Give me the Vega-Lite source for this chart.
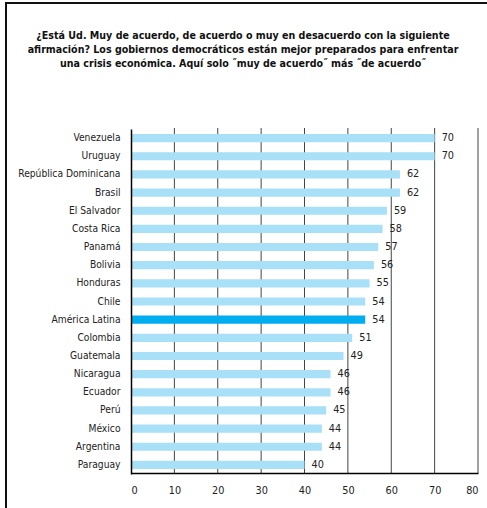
{
  "$schema": "https://vega.github.io/schema/vega-lite/v6.json",
  "autosize": "none",
  "width": 520,
  "height": 520,
  "padding": {"left": 6, "top": 3, "right": 0, "bottom": 0},
  "background": "white",
  "title": {
    "text": [
      "¿Está Ud. Muy de acuerdo, de acuerdo o muy en desacuerdo con la siguiente",
      "afirmación? Los gobiernos democráticos están mejor preparados para enfrentar",
      "una crisis económica. Aquí solo ˝muy de acuerdo˝ más ˝de acuerdo˝"
    ],
    "anchor": "start",
    "align": "center",
    "dx": 237,
    "offset": -67,
    "fontSize": 10.6,
    "fontWeight": "bold",
    "font": "DejaVu Sans Condensed, sans-serif",
    "lineHeight": 14,
    "color": "#111"
  },
  "datasets": {
    "bars": [
      {"pais": "Venezuela", "valor": 70, "grupo": "país"},
      {"pais": "Uruguay", "valor": 70, "grupo": "país"},
      {"pais": "República Dominicana", "valor": 62, "grupo": "país"},
      {"pais": "Brasil", "valor": 62, "grupo": "país"},
      {"pais": "El Salvador", "valor": 59, "grupo": "país"},
      {"pais": "Costa Rica", "valor": 58, "grupo": "país"},
      {"pais": "Panamá", "valor": 57, "grupo": "país"},
      {"pais": "Bolivia", "valor": 56, "grupo": "país"},
      {"pais": "Honduras", "valor": 55, "grupo": "país"},
      {"pais": "Chile", "valor": 54, "grupo": "país"},
      {"pais": "América Latina", "valor": 54, "grupo": "región"},
      {"pais": "Colombia", "valor": 51, "grupo": "país"},
      {"pais": "Guatemala", "valor": 49, "grupo": "país"},
      {"pais": "Nicaragua", "valor": 46, "grupo": "país"},
      {"pais": "Ecuador", "valor": 46, "grupo": "país"},
      {"pais": "Perú", "valor": 45, "grupo": "país"},
      {"pais": "México", "valor": 44, "grupo": "país"},
      {"pais": "Argentina", "valor": 44, "grupo": "país"},
      {"pais": "Paraguay", "valor": 40, "grupo": "país"}
    ],
    "grid": [
      {"v": 10}, {"v": 20}, {"v": 30}, {"v": 40}, {"v": 50}, {"v": 60}, {"v": 70}, {"v": 80}
    ]
  },
  "layer": [
    {
      "data": {"name": "grid"},
      "mark": {"type": "rule", "color": "#444", "strokeWidth": 1},
      "encoding": {
        "x": {"field": "v", "type": "quantitative", "scale": {"domain": [0, 80], "range": [125, 472], "nice": false, "zero": true}},
        "y": {"datum": 0, "type": "quantitative", "scale": {"domain": [0, 1], "range": [125, 470]}, "axis": null},
        "y2": {"datum": 1}
      }
    },
    {
      "data": {"name": "bars"},
      "layer": [
        {
          "mark": {"type": "bar"},
          "encoding": {
            "y": {
              "field": "pais", "type": "nominal", "sort": null,
              "scale": {"range": [126, 471], "paddingInner": 0.55, "paddingOuter": 0.275},
              "axis": {
                "title": null, "orient": "left", "offset": -125, "domain": true, "domainColor": "#000", "domainWidth": 1.5,
                "ticks": false, "labelPadding": 11, "labelFontSize": 10.2, "labelColor": "#222",
                "labelFont": "DejaVu Sans Condensed, sans-serif", "zindex": 1, "grid": false
              }
            },
            "x": {
              "field": "valor", "type": "quantitative",
              "scale": {"domain": [0, 80], "range": [125, 472], "nice": false},
              "axis": {
                "title": null, "orient": "bottom", "offset": -50, "values": [0, 10, 20, 30, 40, 50, 60, 70, 80],
                "domain": true, "domainColor": "#000", "domainWidth": 1.5, "ticks": false, "grid": false,
                "labelPadding": 11, "labelFontSize": 10.8, "labelColor": "#222",
                "labelFont": "DejaVu Sans Condensed, sans-serif", "zindex": 1
              }
            },
            "color": {
              "field": "grupo", "type": "nominal",
              "scale": {"domain": ["país", "región"], "range": ["#a8e0f8", "#00aeef"]},
              "legend": null
            }
          }
        },
        {
          "mark": {"type": "text", "align": "left", "baseline": "middle", "dx": 7, "fontSize": 10.8, "color": "#222",
            "font": "DejaVu Sans Condensed, sans-serif"},
          "encoding": {
            "y": {"field": "pais", "type": "nominal", "sort": null},
            "x": {"field": "valor", "type": "quantitative"},
            "text": {"field": "valor", "type": "quantitative"}
          }
        }
      ]
    }
  ],
  "resolve": {"scale": {"y": "independent"}},
  "config": {
    "view": {"stroke": "#111", "strokeWidth": 2}
  }
}
